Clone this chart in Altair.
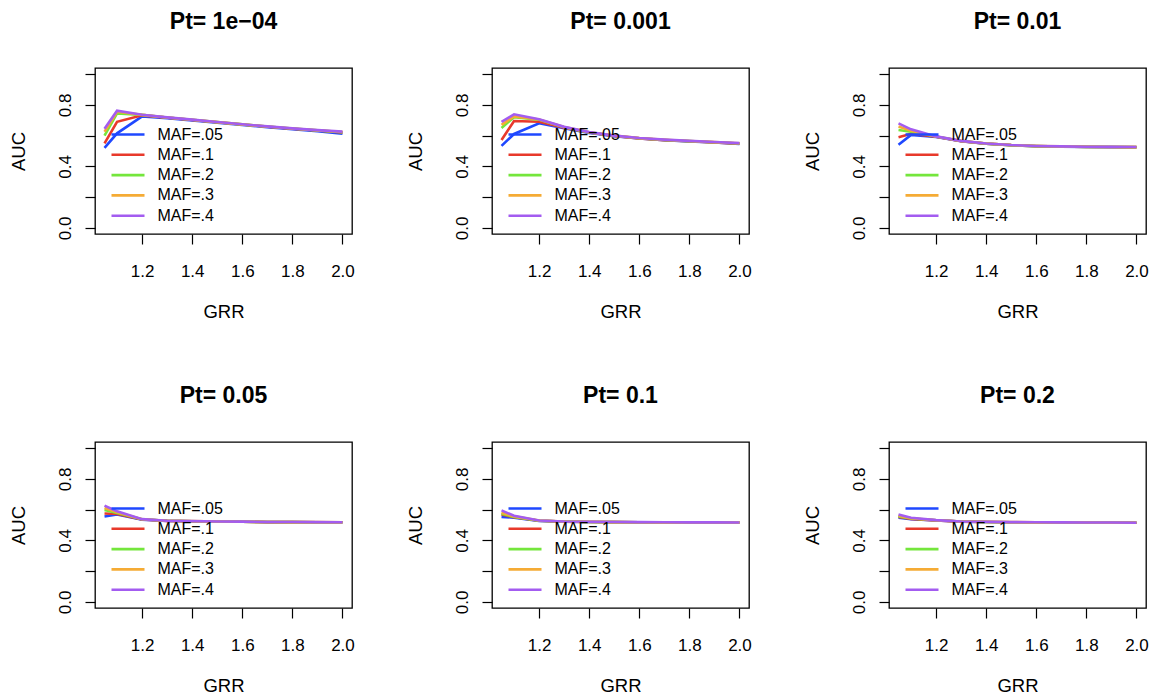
import altair as alt
import pandas as pd

GRR = [1.05, 1.1, 1.2, 1.3, 1.4, 1.5, 1.6, 1.7, 1.8, 1.9, 2.0]
MAF_LABELS = ["MAF=.05", "MAF=.1", "MAF=.2", "MAF=.3", "MAF=.4"]
MAF_COLORS = ["#1f48ff", "#e8392b", "#74e63c", "#f5ab35", "#a35cf0"]
PANEL_TITLES = ["Pt= 1e\u221204", "Pt= 0.001", "Pt= 0.01", "Pt= 0.05", "Pt= 0.1", "Pt= 0.2"]
X_TICKS = [1.2, 1.4, 1.6, 1.8, 2.0]
Y_TICKS = [0.0, 0.2, 0.4, 0.6, 0.8, 1.0]

# AUC per panel, one list per MAF (order of MAF_LABELS)
auc_pt_1e04 = [
    [0.520, 0.615, 0.725, 0.713, 0.699, 0.684, 0.669, 0.655, 0.642, 0.629, 0.612],
    [0.550, 0.690, 0.732, 0.717, 0.702, 0.687, 0.672, 0.658, 0.645, 0.633, 0.620],
    [0.600, 0.745, 0.735, 0.718, 0.703, 0.688, 0.673, 0.659, 0.646, 0.634, 0.622],
    [0.625, 0.755, 0.735, 0.718, 0.703, 0.688, 0.673, 0.659, 0.646, 0.635, 0.624],
    [0.645, 0.762, 0.736, 0.719, 0.704, 0.689, 0.674, 0.660, 0.647, 0.636, 0.626],
]
auc_pt_0001 = [
    [0.533, 0.611, 0.680, 0.648, 0.617, 0.596, 0.581, 0.570, 0.562, 0.555, 0.546],
    [0.572, 0.695, 0.690, 0.652, 0.620, 0.598, 0.582, 0.571, 0.563, 0.556, 0.548],
    [0.650, 0.720, 0.703, 0.655, 0.621, 0.599, 0.583, 0.572, 0.564, 0.557, 0.549],
    [0.670, 0.725, 0.705, 0.656, 0.622, 0.600, 0.584, 0.573, 0.565, 0.558, 0.550],
    [0.690, 0.739, 0.706, 0.657, 0.623, 0.600, 0.585, 0.574, 0.566, 0.559, 0.551],
]
auc_pt_001 = [
    [0.540, 0.605, 0.592, 0.563, 0.547, 0.537, 0.531, 0.528, 0.526, 0.525, 0.524],
    [0.590, 0.612, 0.593, 0.564, 0.548, 0.538, 0.532, 0.529, 0.527, 0.526, 0.525],
    [0.637, 0.625, 0.594, 0.565, 0.548, 0.538, 0.532, 0.529, 0.527, 0.526, 0.525],
    [0.660, 0.632, 0.594, 0.565, 0.549, 0.539, 0.533, 0.530, 0.528, 0.526, 0.525],
    [0.680, 0.641, 0.595, 0.566, 0.549, 0.539, 0.533, 0.530, 0.528, 0.527, 0.526],
]
auc_pt_005 = [
    [0.555, 0.568, 0.535, 0.527, 0.524, 0.522, 0.521, 0.519, 0.519, 0.518, 0.518],
    [0.575, 0.572, 0.536, 0.527, 0.524, 0.522, 0.521, 0.519, 0.519, 0.518, 0.518],
    [0.598, 0.578, 0.537, 0.528, 0.524, 0.522, 0.521, 0.520, 0.519, 0.518, 0.518],
    [0.610, 0.583, 0.537, 0.528, 0.525, 0.523, 0.521, 0.520, 0.519, 0.519, 0.518],
    [0.626, 0.589, 0.538, 0.528, 0.525, 0.523, 0.522, 0.520, 0.520, 0.519, 0.518],
]
auc_pt_01 = [
    [0.553, 0.548, 0.527, 0.522, 0.520, 0.519, 0.518, 0.517, 0.517, 0.516, 0.516],
    [0.568, 0.551, 0.528, 0.522, 0.520, 0.519, 0.518, 0.517, 0.517, 0.516, 0.516],
    [0.574, 0.553, 0.528, 0.523, 0.520, 0.519, 0.518, 0.517, 0.517, 0.516, 0.516],
    [0.580, 0.556, 0.529, 0.523, 0.521, 0.519, 0.518, 0.517, 0.517, 0.516, 0.516],
    [0.595, 0.560, 0.529, 0.523, 0.521, 0.520, 0.519, 0.518, 0.517, 0.517, 0.516],
]
auc_pt_02 = [
    [0.547, 0.538, 0.530, 0.522, 0.520, 0.518, 0.517, 0.516, 0.516, 0.515, 0.515],
    [0.552, 0.540, 0.530, 0.522, 0.520, 0.518, 0.517, 0.516, 0.516, 0.515, 0.515],
    [0.556, 0.542, 0.531, 0.523, 0.520, 0.518, 0.517, 0.516, 0.516, 0.515, 0.515],
    [0.560, 0.544, 0.531, 0.523, 0.521, 0.519, 0.517, 0.516, 0.516, 0.515, 0.515],
    [0.568, 0.547, 0.532, 0.523, 0.521, 0.519, 0.518, 0.517, 0.516, 0.516, 0.515],
]

FONT = "Liberation Sans"


def panel(title, series):
    rows = []
    for label, vals in zip(MAF_LABELS, series):
        for g, a in zip(GRR, vals):
            rows.append({"GRR": g, "AUC": a, "MAF": label})
    df = pd.DataFrame(rows)
    return alt.Chart(df).mark_line(strokeWidth=2.6).encode(
        x=alt.X(
            "GRR:Q",
            title="GRR",
            scale=alt.Scale(domain=[1.012, 2.038], nice=False, zero=False),
            axis=alt.Axis(
                values=X_TICKS, format=".1f", grid=False, domain=False,
                tickSize=10, tickColor="black", tickWidth=1.2,
                labelFont=FONT, labelFontSize=17, labelColor="black",
                labelPadding=19, labelFlush=False, labelOverlap=False,
                titleFont=FONT, titleFontSize=18.5, titleFontWeight="normal",
                titleColor="black", titlePadding=23,
            ),
        ),
        y=alt.Y(
            "AUC:Q",
            title="AUC",
            scale=alt.Scale(domain=[-0.04, 1.04], nice=False, zero=False),
            axis=alt.Axis(
                values=Y_TICKS, grid=False, domain=False,
                labelExpr="(round(datum.value*10) % 4 == 0) ? format(datum.value, '.1f') : ''",
                tickSize=10, tickColor="black", tickWidth=1.2,
                labelFont=FONT, labelFontSize=17, labelColor="black",
                labelAngle=270, labelAlign="center", labelBaseline="bottom",
                labelPadding=11, labelFlush=False, labelOverlap=False,
                titleFont=FONT, titleFontSize=18.5, titleFontWeight="normal",
                titleColor="black", titlePadding=28,
            ),
        ),
        color=alt.Color(
            "MAF:N",
            scale=alt.Scale(domain=MAF_LABELS, range=MAF_COLORS),
            legend=alt.Legend(
                title=None, orient="none", legendX=25, legendY=58.5,
                symbolType="M-3,0H3", symbolSize=121, symbolStrokeWidth=2.6,
                labelFont=FONT, labelFontSize=16, labelColor="black",
                labelOffset=21.5, rowPadding=4.3, padding=0,
            ),
        ),
    ).properties(
        width=257,
        height=166,
        title=alt.TitleParams(
            text=title, frame="group", anchor="middle", fontSize=23,
            fontWeight="bold", font=FONT, color="black",
            baseline="alphabetic", offset=16,
        ),
    )


panels = [
    panel(PANEL_TITLES[0], auc_pt_1e04),
    panel(PANEL_TITLES[1], auc_pt_0001),
    panel(PANEL_TITLES[2], auc_pt_001),
    panel(PANEL_TITLES[3], auc_pt_005),
    panel(PANEL_TITLES[4], auc_pt_01),
    panel(PANEL_TITLES[5], auc_pt_02),
]

row1 = alt.hconcat(*panels[:3], spacing=50).resolve_scale(color="independent").resolve_legend(color="independent")
row2 = alt.hconcat(*panels[3:], spacing=50).resolve_scale(color="independent").resolve_legend(color="independent")

chart = alt.vconcat(row1, row2, spacing=62).resolve_scale(
    color="independent"
).resolve_legend(color="independent").properties(
    padding={"left": 8, "top": 10, "right": 0, "bottom": 0},
    background="white",
).configure_view(stroke="black", strokeWidth=1.3)

chart.save("out.html", embed_options={"renderer": "svg", "actions": False})
